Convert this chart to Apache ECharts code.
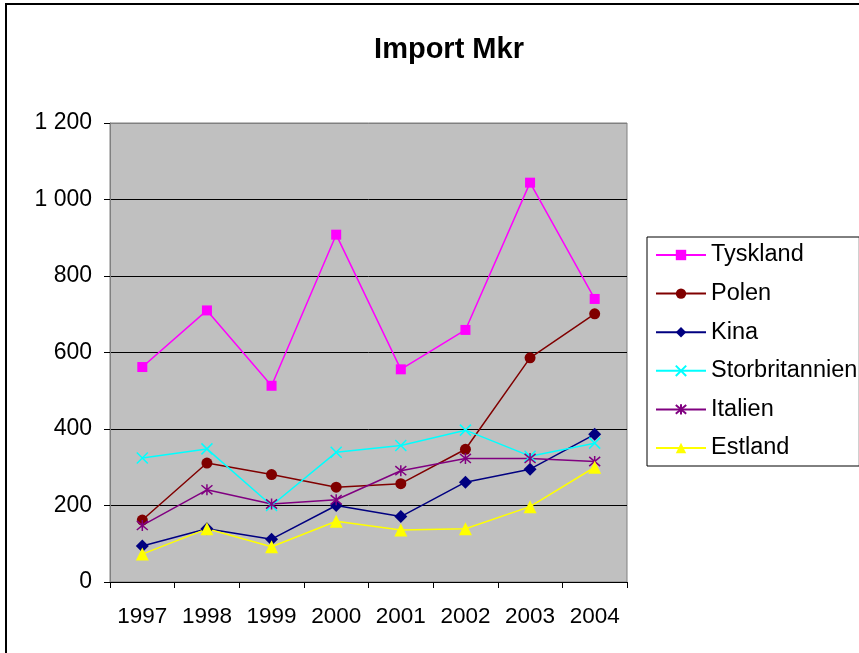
<!DOCTYPE html>
<html>
<head>
<meta charset="utf-8">
<script src="https://cdn.jsdelivr.net/npm/echarts@6/dist/echarts.min.js"></script>
<style>
html,body{margin:0;padding:0;background:#fff;}
#chart{width:859px;height:653px;}
</style>
</head>
<body>
<div id="chart"></div>
<script>
const years = ['1997','1998','1999','2000','2001','2002','2003','2004'];
const tyskland = [562, 710, 513, 908, 556, 659, 1044, 740];
const polen = [162, 311, 281, 248, 257, 347, 586, 701];
const kina = [94, 139, 112, 200, 171, 261, 295, 386];
const storbritannien = [324, 348, 200, 339, 357, 397, 329, 363];
const italien = [148, 241, 204, 215, 291, 323, 323, 315];
const estland = [73, 139, 92, 159, 136, 139, 197, 300];
const yTicks = [0, 200, 400, 600, 800, 1000, 1200];

const FONT = '"Liberation Sans", Arial, sans-serif';
const xPath = 'path://M0,0L10,10M10,0L0,10';
const starPath = 'path://M0,0L10,10M10,0L0,10M5,-1L5,11';

function mk(name, data, color, symbol, size, strokeOnly) {
  return {
    name: name, type: 'line', data: data,
    symbol: symbol, symbolSize: size,
    lineStyle: {color: color, width: 1.5},
    itemStyle: strokeOnly ? {color: color, borderColor: color, borderWidth: 1.5} : {color: color},
    emphasis: {disabled: true},
    animation: false
  };
}

const chart = echarts.init(document.getElementById('chart'), null, {renderer: 'canvas'});
chart.setOption({
  backgroundColor: '#ffffff',
  animation: false,
  title: {
    text: 'Import Mkr', left: 444, top: 30, textAlign: 'center',
    textStyle: {fontFamily: FONT, fontSize: 29, fontWeight: 'bold', color: '#000'}
  },
  graphic: [{
    type: 'rect', shape: {x: 6, y: 4, width: 900, height: 700},
    style: {fill: 'none', stroke: '#000', lineWidth: 2}, silent: true
  }],
  legend: {
    orient: 'vertical', left: 647, top: 237,
    padding: [6, 2, 6, 8], itemGap: 14.6,
    itemWidth: 50, itemHeight: 13,
    borderColor: '#000', borderWidth: 1, backgroundColor: '#fff',
    textStyle: {fontFamily: FONT, fontSize: 23.5, color: '#000', lineHeight: 24},
    data: ['Tyskland','Polen','Kina','Storbritannien','Italien','Estland']
  },
  grid: {
    left: 110, top: 123, right: 232, bottom: 71,
    show: true, backgroundColor: '#C0C0C0', borderColor: '#808080', borderWidth: 1
  },
  xAxis: {
    type: 'category', data: years, boundaryGap: true,
    axisLine: {lineStyle: {color: '#000', width: 1}},
    axisTick: {show: true, interval: 0, length: 6, alignWithLabel: false, lineStyle: {color: '#000'}},
    axisLabel: {interval: 0, fontFamily: FONT, fontSize: 22.5, color: '#000', margin: 23}
  },
  yAxis: {
    type: 'value', min: yTicks[0], max: yTicks[yTicks.length-1], interval: 200,
    axisLine: {show: true, lineStyle: {color: '#808080', width: 1}},
    axisTick: {show: true, length: 6, lineStyle: {color: '#000'}},
    splitLine: {show: true, lineStyle: {color: ['#000','#000','#000','#000','#000','#000','#808080'], width: 1}},
    axisLabel: {
      fontFamily: FONT, fontSize: 23, color: '#000', margin: 18,
      formatter: v => String(v).replace(/\B(?=(\d{3})+(?!\d))/g, ' ')
    }
  },
  series: [
    mk('Tyskland', tyskland, '#FF00FF', 'rect', 10, false),
    mk('Polen', polen, '#800000', 'circle', 11, false),
    mk('Kina', kina, '#000080', 'diamond', 13, false),
    mk('Storbritannien', storbritannien, '#00FFFF', xPath, 11, true),
    mk('Italien', italien, '#800080', starPath, 11, true),
    mk('Estland', estland, '#FFFF00', 'triangle', 13, false)
  ]
});
</script>
</body>
</html>
